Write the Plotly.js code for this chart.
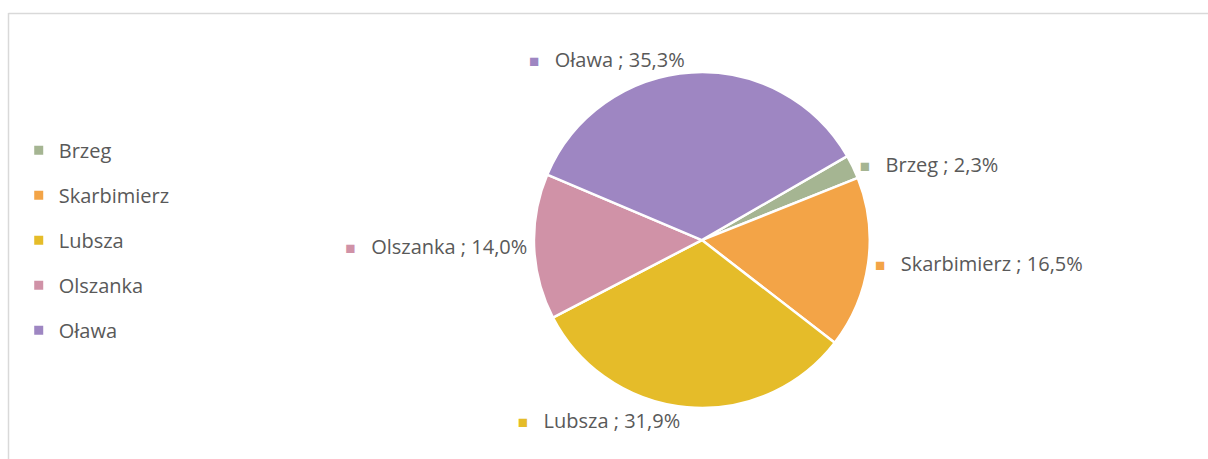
<!DOCTYPE html>
<html>
<head>
<meta charset="utf-8">
<script src="https://cdn.plot.ly/plotly-3.0.1.min.js"></script>
<style>html,body{margin:0;padding:0;background:#fff;}#chart{width:1208px;height:459px;}</style>
</head>
<body>
<div id="chart"></div>
<script>
// Data
const labels = ['Brzeg', 'Skarbimierz', 'Lubsza', 'Olszanka', 'Oława'];
const shares = [2.3, 16.5, 31.9, 14.0, 35.3];
const colors = ['#A5B592', '#F3A447', '#E5BC29', '#D092A7', '#9E86C2'];

const FONT = '"Open Sans", "Noto Sans", sans-serif';
const TXT = '#595959';

const texttemplates = colors.map(c =>
  '<span style="color:' + c + ';font-size:17px">■</span>   %{label} ; %{percent:.1%}');

const pie = {
  type: 'pie',
  labels: labels,
  values: shares,
  sort: false,
  direction: 'clockwise',
  rotation: 60,
  marker: { colors: colors, line: { color: '#ffffff', width: 2.5 } },
  textposition: 'outside',
  texttemplate: texttemplates,
  outsidetextfont: { family: FONT, size: 20, color: TXT },
  showlegend: false,
  hoverinfo: 'none',
  domain: { x: [0.442, 0.720], y: [0.111, 0.843] }
};

// legend entries built from the same category arrays
const legendTraces = labels.map((name, i) => ({
  type: 'scatter',
  x: [null], y: [null],
  mode: 'markers',
  name: name,
  legendgroup: 'g' + i,
  marker: { symbol: 'square', size: 9, color: colors[i] },
  hoverinfo: 'none',
  showlegend: true
}));

const layout = {
  width: 1208,
  height: 459,
  margin: { l: 0, r: 0, t: 0, b: 0 },
  paper_bgcolor: '#ffffff',
  plot_bgcolor: '#ffffff',
  separators: ',.',
  font: { family: FONT, size: 20, color: TXT },
  xaxis: { visible: false },
  yaxis: { visible: false },
  showlegend: true,
  legend: {
    x: 0.0155, xanchor: 'left',
    y: 0.715, yanchor: 'top',
    font: { family: FONT, size: 20, color: TXT },
    tracegroupgap: 16,
    itemwidth: 30,
    bgcolor: 'rgba(0,0,0,0)'
  },
  shapes: [
    { type: 'line', xref: 'paper', yref: 'paper', x0: 8.5/1208, x1: 1, y0: (459-13.5)/459, y1: (459-13.5)/459,
      line: { color: '#D9D9D9', width: 1.5 } },
    { type: 'line', xref: 'paper', yref: 'paper', x0: 8.5/1208, x1: 8.5/1208, y0: 0, y1: (459-13)/459,
      line: { color: '#D9D9D9', width: 1.5 } }
  ]
};

Plotly.newPlot('chart', [pie].concat(legendTraces), layout, { displayModeBar: false, staticPlot: true });
</script>
</body>
</html>
